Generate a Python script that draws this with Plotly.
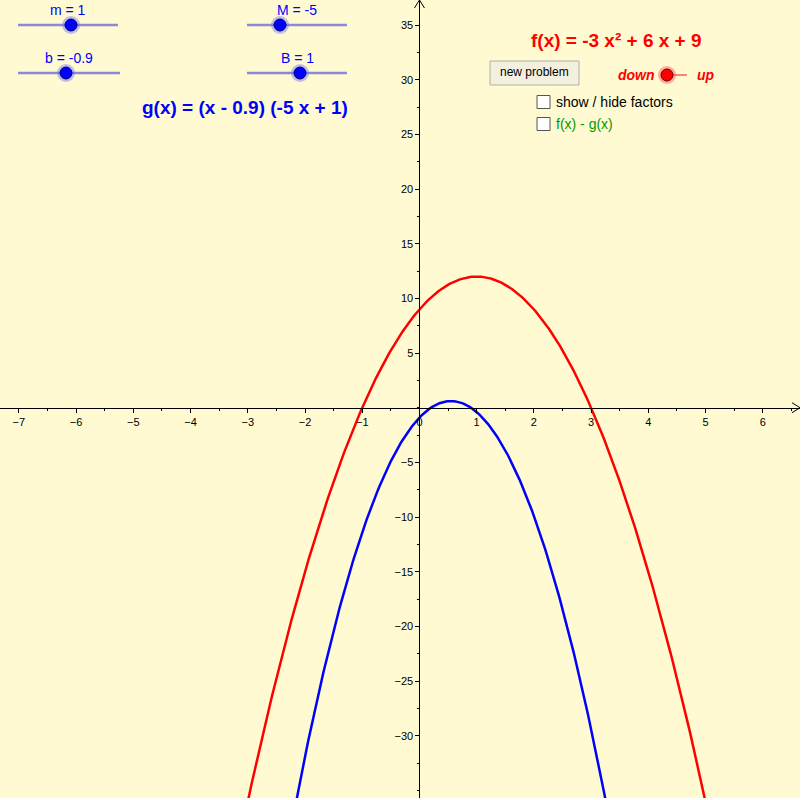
import numpy as np
import plotly.graph_objects as go

W, H = 800, 798
xmin, xmax = -7.33, 6.65
ymin, ymax = -35.7, 37.3

# f(x) = a x^2 + b x + c ; g(x) = (m x + b)(M x + B)
f_coef = [-3, 6, 9]
g_par = {"m": 1, "b": -0.9, "M": -5, "B": 1}
xtick_vals = [-7, -6, -5, -4, -3, -2, -1, 0, 1, 2, 3, 4, 5, 6]
ytick_vals = [-30, -25, -20, -15, -10, -5, 5, 10, 15, 20, 25, 30, 35]

xs = np.linspace(xmin, xmax, 600)
fy = f_coef[0]*xs**2 + f_coef[1]*xs + f_coef[2]
gy = (g_par["m"]*xs + g_par["b"]) * (g_par["M"]*xs + g_par["B"])

fig = go.Figure()
fig.add_trace(go.Scatter(x=xs, y=fy, mode="lines", line=dict(color="#ff0000", width=2.5), hoverinfo="skip"))
fig.add_trace(go.Scatter(x=xs, y=gy, mode="lines", line=dict(color="#0000ff", width=2.5), hoverinfo="skip"))

def px(x): return x / W
def py(y): return 1 - y / H

shapes, ann = [], []
font = "Liberation Sans, Arial"

def text(x, y, t, col, size, xa="center"):
    ann.append(dict(x=px(x), y=py(y), xref="paper", yref="paper", xanchor=xa, yanchor="middle",
                    text=t, showarrow=False, font=dict(color=col, size=size, family=font)))

def slider(x0, x1, y, k, label):
    shapes.append(dict(type="line", xref="paper", yref="paper", x0=px(x0), x1=px(x1), y0=py(y), y1=py(y),
                       line=dict(color="#8a8ad8", width=2.5)))
    shapes.append(dict(type="circle", xref="paper", yref="paper", x0=px(k-9), x1=px(k+9), y0=py(y-9), y1=py(y+9),
                       fillcolor="rgba(100,100,255,0.4)", line=dict(width=0)))
    shapes.append(dict(type="circle", xref="paper", yref="paper", x0=px(k-6), x1=px(k+6), y0=py(y-6), y1=py(y+6),
                       fillcolor="#0000ff", line=dict(color="#000066", width=1)))
    text((x0+x1)/2, y-15, label, "#0000ff", 14)

slider(18, 118, 25, 71, "m = 1")
slider(18, 120, 73, 66, "b = -0.9")
slider(247, 347, 25, 280, "M = -5")
slider(247, 347, 73, 300, "B = 1")

text(245, 107, "<b>g(x) = (x - 0.9) (-5 x + 1)</b>", "#0000ff", 19)
text(616, 41, "<b>f(x) = -3 x² + 6 x + 9</b>", "#ff0000", 19)
# button
shapes.append(dict(type="rect", xref="paper", yref="paper", x0=px(490), x1=px(579), y0=py(61), y1=py(85),
                   fillcolor="#f3f0e0", line=dict(color="#b0b0a0", width=1)))
text(534.5, 72.5, "new problem", "#000", 12)
# down/up switch
shapes.append(dict(type="line", xref="paper", yref="paper", x0=px(667), x1=px(687), y0=py(75), y1=py(75),
                   line=dict(color="#ff8080", width=2)))
shapes.append(dict(type="circle", xref="paper", yref="paper", x0=px(658), x1=px(676), y0=py(66), y1=py(84),
                   fillcolor="rgba(255,80,80,0.45)", line=dict(width=0)))
shapes.append(dict(type="circle", xref="paper", yref="paper", x0=px(661), x1=px(673), y0=py(69), y1=py(81),
                   fillcolor="#ff0000", line=dict(color="#660000", width=1)))
text(657, 75, "<b><i>down</i></b>", "#ff0000", 14, "right")
text(695, 75, "<b><i>up</i></b>", "#ff0000", 14, "left")
# checkboxes
for yy, txt, col in [(102, "show / hide factors", "#000000"), (124, "f(x) - g(x)", "#009900")]:
    shapes.append(dict(type="rect", xref="paper", yref="paper", x0=px(537), x1=px(550), y0=py(yy-6.5), y1=py(yy+6.5),
                       fillcolor="#ffffff", line=dict(color="#555", width=1)))
    text(554, yy, txt, col, 14, "left")
# axis arrows
x0p = (0 - xmin) / (xmax - xmin); y0p = (0 - ymin) / (ymax - ymin)
shapes.append(dict(type="path", xref="paper", yref="paper",
                   path=f"M {1-8/W} {y0p+5/H} L 1 {y0p} L {1-8/W} {y0p-5/H}", line=dict(color="#000", width=1)))
shapes.append(dict(type="path", xref="paper", yref="paper",
                   path=f"M {x0p-5/W} {1-8/H} L {x0p} 1 L {x0p+5/W} {1-8/H}", line=dict(color="#000", width=1)))

def lab(v): return str(v).replace("-", "−")

fig.update_layout(
    width=W, height=H, margin=dict(l=0, r=0, t=0, b=0),
    paper_bgcolor="#fffad2", plot_bgcolor="#fffad2", showlegend=False,
    shapes=shapes, annotations=ann,
    xaxis=dict(range=[xmin, xmax], anchor="free", position=y0p, showgrid=False, zeroline=False,
               showline=True, linecolor="#000", linewidth=1, ticks="outside", ticklen=4, tickcolor="#000",
               tickvals=xtick_vals, ticktext=[lab(v) for v in xtick_vals],
               minor=dict(dtick=0.5, ticks="outside", ticklen=2, tickcolor="#000"),
               tickfont=dict(size=11, family=font, color="#000")),
    yaxis=dict(range=[ymin, ymax], anchor="free", position=x0p, showgrid=False, zeroline=False,
               showline=True, linecolor="#000", linewidth=1, ticks="outside", ticklen=4, tickcolor="#000",
               tickvals=ytick_vals, ticktext=[lab(v) for v in ytick_vals],
               minor=dict(dtick=2.5, ticks="outside", ticklen=2, tickcolor="#000"),
               tickfont=dict(size=11, family=font, color="#000")),
)
fig.write_html("out.html", config={"displayModeBar": False},
               post_script="document.body.style.margin='0';")
